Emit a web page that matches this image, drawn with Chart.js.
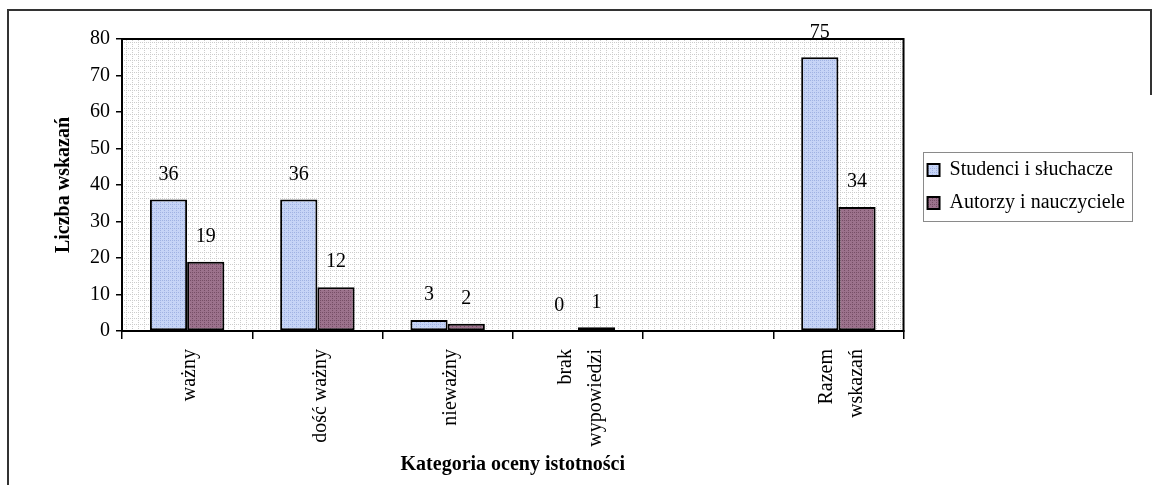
<!DOCTYPE html>
<html>
<head>
<meta charset="utf-8">
<script src="https://cdn.jsdelivr.net/npm/chart.js@4"></script>
<style>
    body { margin: 0; background: #fff; }
    #chart { display: block; }
</style>
</head>
<body>
<canvas id="chart" width="1152" height="485"></canvas>
<script>
// Data
const categories = ['ważny', 'dość ważny', 'nieważny', ['brak', 'wypowiedzi'], '', ['Razem', 'wskazań']];
const studenci = [36, 36, 3, 0, null, 75];
const autorzy = [19, 12, 2, 1, null, 34];
const seriesNames = ['Studenci i słuchacze', 'Autorzy i nauczyciele'];
const yMin = 0, yMax = 80, yStep = 10;

const serif = 'Liberation Serif';

// small texture tiles, like the scanned fills
function tile(size, base, dots) {
    const c = document.createElement('canvas');
    c.width = c.height = size;
    const g = c.getContext('2d');
    if (base) { g.fillStyle = base; g.fillRect(0, 0, size, size); }
    g.fillStyle = dots;
    for (let i = 0; i < size; i += 2) {
        g.fillRect(i, 0, 1, 1);
        if (i > 0) g.fillRect(0, i, 1, 1);
    }
    return g.createPattern(c, 'repeat');
}
const plotFill = tile(6, '#ffffff', 'rgba(0,0,0,0.2)');
const blueFill = tile(4, 'rgb(198,212,246)', 'rgb(160,178,226)');
const maroonFill = tile(4, 'rgb(156,114,140)', 'rgb(118,78,102)');

// plot background, plot frame and outer frame
const framePlugin = {
    id: 'frame',
    beforeDraw(chart) {
        const {ctx, chartArea: a} = chart;
        ctx.save();
        ctx.fillStyle = plotFill;
        ctx.fillRect(a.left, a.top, a.right - a.left, a.bottom - a.top);
        ctx.strokeStyle = '#333';
        ctx.lineWidth = 2;
        ctx.beginPath();
        ctx.moveTo(8, 486); ctx.lineTo(8, 10); ctx.lineTo(1151, 10); ctx.lineTo(1151, 95);
        ctx.stroke();
        ctx.restore();
    },
    afterDatasetsDraw(chart) {
        const {ctx, chartArea: a} = chart;
        ctx.save();
        ctx.strokeStyle = '#000';
        ctx.lineWidth = 2;
        ctx.strokeRect(a.left, a.top, a.right - a.left, a.bottom - a.top);
        ctx.restore();
    },
    afterDraw(chart) {
        // box round the legend
        const hb = chart.legend.legendHitBoxes;
        if (!hb || !hb.length) return;
        const ctx = chart.ctx;
        const left = hb[0].left - 5;
        const right = Math.max(...hb.map(h => h.left + h.width)) + 7;
        const top = hb[0].top - 8;
        const bottom = hb[hb.length - 1].top + hb[hb.length - 1].height + 8;
        ctx.save();
        ctx.strokeStyle = '#8a8a8a';
        ctx.lineWidth = 1;
        ctx.strokeRect(Math.round(left) + 0.5, Math.round(top) + 0.5, Math.round(right - left), Math.round(bottom - top));
        ctx.restore();
    }
};

// value labels above the bars
const valueLabels = {
    id: 'valueLabels',
    afterDatasetsDraw(chart) {
        const ctx = chart.ctx;
        ctx.save();
        ctx.font = '20px "' + serif + '"';
        ctx.fillStyle = '#000';
        ctx.textAlign = 'center';
        ctx.textBaseline = 'middle';
        chart.data.datasets.forEach((ds, i) => {
            const meta = chart.getDatasetMeta(i);
            meta.data.forEach((bar, j) => {
                const v = ds.data[j];
                if (v === null || v === undefined) return;
                ctx.fillText(String(v), bar.x, bar.y - 25);
            });
        });
        ctx.restore();
    }
};

const data = {
    labels: categories,
    datasets: [{
        label: seriesNames[0],
        data: studenci,
        backgroundColor: blueFill,
        borderColor: '#000',
        borderWidth: 2,
        borderSkipped: false,
        yAxisID: 'y'
    }, {
        label: seriesNames[1],
        data: autorzy,
        backgroundColor: maroonFill,
        borderColor: '#000',
        borderWidth: 2,
        borderSkipped: false,
        yAxisID: 'y'
    }]
};

const config = {
    type: 'bar',
    data,
    options: {
        responsive: false,
        animation: false,
        devicePixelRatio: 1,
        categoryPercentage: 2 / 3.5,
        barPercentage: 1,
        layout: { padding: { top: 39, left: 48, right: 17, bottom: 8 } },
        plugins: {
            tooltip: { enabled: false },
            legend: {
                position: 'right',
                align: 'start',
                maxWidth: 300,
                title: { display: true, text: '', font: { size: 10 }, padding: { top: 96, bottom: 0 } },
                labels: {
                    color: '#000',
                    font: { family: serif, size: 20 },
                    boxWidth: 12,
                    boxHeight: 12,
                    padding: 13
                }
            }
        },
        scales: {
            x: {
                grid: { display: true, drawOnChartArea: false, drawTicks: true, tickLength: 8, color: '#000', lineWidth: 1.5 },
                border: { color: '#000', width: 2 },
                ticks: {
                    color: '#000',
                    font: { family: serif, size: 20, lineHeight: 0.75 },
                    minRotation: 90,
                    maxRotation: 90,
                    autoSkip: false,
                    padding: 10,
                    labelOffset: -12,
                    // keep two-line labels centred on their category
                    callback(value) {
                        const c = categories[value];
                        if (Array.isArray(c)) return [c[0], '', c[1]];
                        return ['', c];
                    }
                },
                title: {
                    display: true,
                    text: 'Kategoria oceny istotności',
                    color: '#000',
                    font: { family: serif, size: 20, weight: 'bold' },
                    padding: { top: 0, bottom: 0 }
                },
                afterFit(s) { s.height = 146; }
            },
            y: {
                min: yMin,
                max: yMax,
                ticks: { stepSize: yStep, color: '#000', font: { family: serif, size: 20 }, padding: 6 },
                grid: { display: true, drawOnChartArea: false, tickLength: 6, color: '#000', lineWidth: 1.5 },
                border: { color: '#000', width: 2 },
                title: {
                    display: true,
                    text: 'Liczba wskazań',
                    color: '#000',
                    font: { family: serif, size: 20, weight: 'bold' },
                    padding: { top: 4, bottom: 4 }
                },
                afterFit(s) { s.width = 74; }
            },
            gap: {
                type: 'linear',
                position: 'right',
                display: true,
                grid: { display: false, drawTicks: false },
                border: { display: false },
                ticks: { display: false },
                afterFit(s) { s.width = 11; }
            }
        }
    },
    plugins: [framePlugin, valueLabels]
};

const myChart = new Chart(document.getElementById('chart'), config);
</script>
</body>
</html>
